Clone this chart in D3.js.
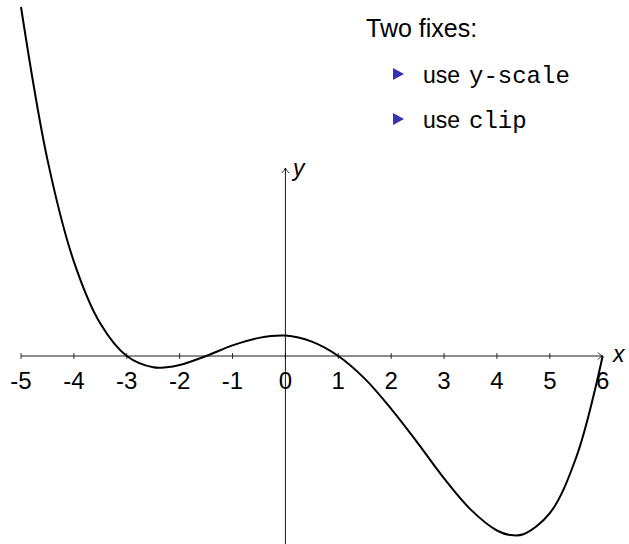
<!DOCTYPE html>
<html>
<head>
<meta charset="utf-8">
<script src="https://cdn.jsdelivr.net/npm/d3@7"></script>
<style>
  body { margin: 0; background: #fff; }
  svg { display: block; }
  .lbl { font-family: "Liberation Sans", Arial, sans-serif; }
  .tt { font-family: "Liberation Mono", "DejaVu Sans Mono", monospace; }
</style>
</head>
<body>
<div id="chart"></div>
<script>
// values
var xs = [-5, -4.5, -4, -3.5, -3, -2.5, -2.25, -2, -1.5, -1, -0.5, 0, 0.5, 1, 1.5, 2, 2.5, 3, 3.5, 4, 4.25, 4.5, 5, 5.5, 6];
var ys = [462, 260, 125, 43, 0, -15, -15, -12, 0, 14, 24, 27, 19, 0, -30, -70, -115, -162, -203, -231, -237, -236, -208, -134, 0];
var xTicks = [-5, -4, -3, -2, -1, 0, 1, 2, 3, 4, 5, 6];
var title = "Two fixes:";
var items = [["use", "y-scale"], ["use", "clip"]];

var width = 629, height = 544;

var svg = d3.select("#chart").append("svg")
    .attr("width", width)
    .attr("height", height);

var x = d3.scaleLinear().domain([-5, 6]).range([21, 602.7]);
var y = d3.scaleLinear().domain([0, 462]).range([356, 7]);

function arrow(g, px, py, angle) {
  g.append("path")
    .attr("d", "M-5,-3.5 Q-2,-0.8 0,0 Q-2,0.8 -5,3.5")
    .attr("fill", "none")
    .attr("stroke", "#000")
    .attr("stroke-width", 0.8)
    .attr("transform", "translate(" + px + "," + py + ") rotate(" + angle + ")");
}

// x axis
var ax = svg.append("g");
ax.append("line")
  .attr("x1", x(-5)).attr("x2", x(6))
  .attr("y1", y(0)).attr("y2", y(0))
  .attr("stroke", "#000").attr("stroke-width", 0.9);
arrow(ax, x(6), y(0), 0);

ax.selectAll(".tick").data(xTicks.slice(0, -1)).enter().append("line")
  .attr("x1", function(d) { return x(d); })
  .attr("x2", function(d) { return x(d); })
  .attr("y1", y(0) - 3).attr("y2", y(0) + 3)
  .attr("stroke", "#000").attr("stroke-width", 0.8);

ax.selectAll(".tl").data(xTicks).enter().append("text")
  .attr("class", "lbl")
  .attr("x", function(d) { return x(d); })
  .attr("y", 389)
  .attr("text-anchor", "middle")
  .attr("font-size", 24)
  .text(function(d) { return d; });

ax.append("text").attr("class", "lbl")
  .attr("x", 613).attr("y", 362)
  .attr("font-size", 23).attr("font-style", "italic")
  .text("x");

// y axis
ax.append("line")
  .attr("x1", x(0)).attr("x2", x(0))
  .attr("y1", 544).attr("y2", 168)
  .attr("stroke", "#000").attr("stroke-width", 0.9);
arrow(ax, x(0), 168, -90);

ax.append("text").attr("class", "lbl")
  .attr("x", 293).attr("y", 176)
  .attr("font-size", 23).attr("font-style", "italic")
  .text("y");

// curve
var pts = xs.map(function(d, i) { return [d, ys[i]]; });
var line = d3.line()
    .x(function(d) { return x(d[0]); })
    .y(function(d) { return y(d[1]); })
    .curve(d3.curveCatmullRom.alpha(0.5));

svg.append("path")
  .datum(pts)
  .attr("d", line)
  .attr("fill", "none")
  .attr("stroke", "#000")
  .attr("stroke-width", 2);

// text block
svg.append("text").attr("class", "lbl")
  .attr("x", 366).attr("y", 37)
  .attr("font-size", 25)
  .text(title);

var rows = svg.selectAll(".item").data(items).enter().append("g")
  .attr("transform", function(d, i) { return "translate(0," + (83 + i * 45) + ")"; });

rows.append("path")
  .attr("d", "M393,-15 L404,-9 L393,-3 Z")
  .attr("fill", "#3333b3");

rows.append("text").attr("class", "lbl")
  .attr("x", 423).attr("font-size", 23)
  .text(function(d) { return d[0]; });

rows.append("text").attr("class", "tt")
  .attr("x", 469).attr("font-size", 24)
  .text(function(d) { return d[1]; });
</script>
</body>
</html>
